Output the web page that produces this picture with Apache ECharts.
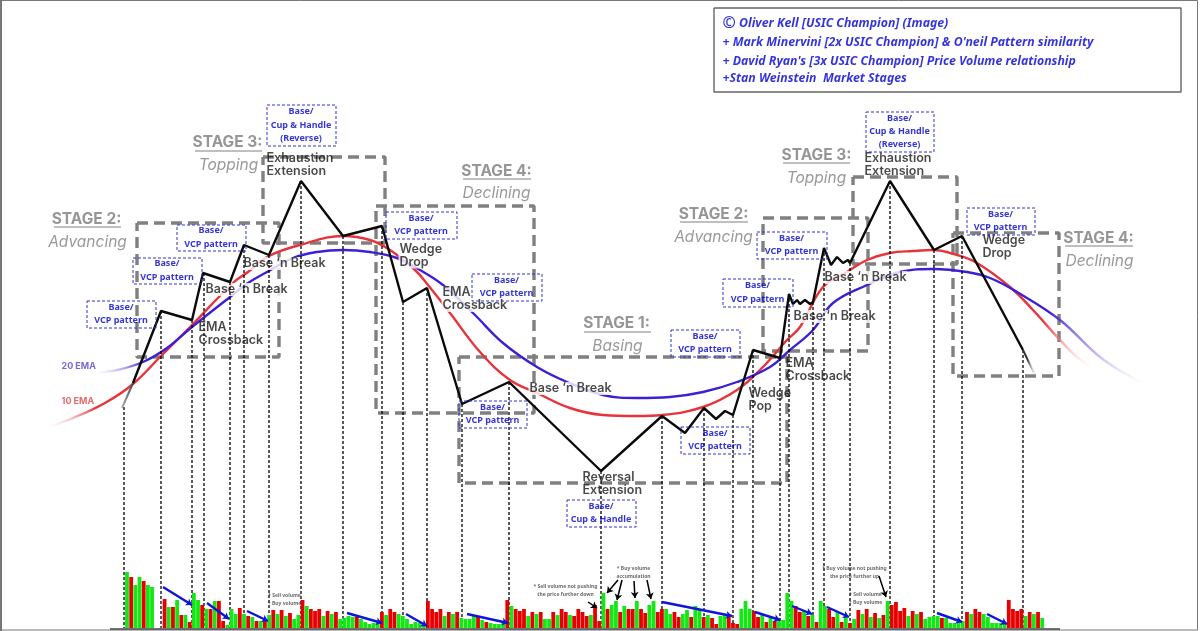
<!DOCTYPE html>
<html>
<head>
<meta charset="utf-8">
<style>
  html, body { margin: 0; padding: 0; background: #fff; }
  #chart { width: 1200px; height: 631px; }
</style>
<script src="https://cdn.jsdelivr.net/npm/echarts@6/dist/echarts.min.js"></script>
</head>
<body>
<div id="chart"></div>
<script>
var priceLine = [[133,383],[161,311],[192,320],[203,273],[230,282],[244,245],[269,255],[301,181],[343,236],[382,226],
  [403,302],[427,288],[462,404],[509,382],[601,471],[662,416],[685,433],[704,408],[716,419],[725,411],[733,415],
  [753,350],[780,358],[789,294],[793,304],[797,300],[800,304],[805,300],[810,304],[813,302],[824,248],[831,265],
  [837,257],[843,263],[848,260],[850,263],[890,181],[934,250],[962,236],[1023,350]];
var priceHead = [[122,408],[133,383]];
var priceTail = [[1023,350],[1035,375]];

var ema10 = [[45,428],[73,418],[105,403],[133,384],[161,356],[192,325],[233,283],[248,272],[269,256],[300,245],[343,236],
  [370,240],[390,250],[415,270],[428,285],[450,313],[480,352],[510,380],[537,393],[570,408],[603,415],[637,416],
  [662,415],[703,407],[737,390],[763,367],[787,340],[800,327],[823,287],[847,272],[867,260],[890,253],[913,251],
  [933,250],[957,255],[977,263],[1010,287],[1033,310],[1060,340],[1077,357],[1093,368]];
var ema20 = [[93,373],[117,370],[143,362],[167,348],[192,327],[230,297],[248,283],[267,272],[293,258],[317,252],[343,250],
  [370,252],[397,258],[420,270],[443,285],[473,313],[503,343],[537,367],[567,382],[603,395],[637,398],[670,397],
  [703,392],[737,382],[770,367],[790,350],[813,330],[833,303],[867,285],[900,272],[933,269],[967,272],[990,278],
  [1017,292],[1060,320],[1100,357],[1133,378],[1153,387]];

var dropTimes = [124,161,192,204,230,244,269,301,343,382,403,427,462,509,601,662,704,733,753,780,789,813,824,850,890,934,962,1023];
var dropTops = [407,311,320,273,282,245,255,181,236,226,302,288,404,382,471,416,408,415,350,358,294,302,248,263,181,250,236,350];

// positive = buy volume, negative = sell volume, null = empty slot
var volumeValues = [56,-51,43,51,-47,43,41,null,null,-29,21,-21,28,-13,13,-6,35,28,-23,19,-19,27,-27,-7,3,19,14,-20,14,-12,11,-7,7,-8,13,-18,14,-18,12,-15,9,13,-28,22,
  -19,-17,-19,12,-17,14,-16,9,10,12,11,-11,9,6,4,5,6,-16,13,-19,-16,14,12,9,4,6,5,3,-27,-19,-16,-19,12,-16,14,-16,10,9,9,12,-11,8,-6,5,
  4,4,5,-28,22,-19,-17,-19,12,-16,14,-16,9,9,-16,13,-19,-16,13,-12,-19,-16,-12,13,-23,-7,35,-19,23,27,-16,22,-19,-19,27,-19,-15,23,27,-16,-19,
  19,14,-16,-11,14,18,-11,22,18,-11,13,-10,-4,12,13,-11,-5,-4,19,27,19,-17,-11,13,-6,12,-7,7,8,35,27,-22,-16,17,-12,13,-6,27,22,-19,-11,16,-6,13,-5,
  9,-18,14,-19,11,-15,10,-13,27,-23,-26,-17,-20,12,-17,14,-16,9,11,12,12,-10,10,5,5,5,7,-16,14,-19,-16,14,11,5,5,5,4,-28,-19,-17,-19,12,-16,14,-16,10];

// left, top, right, bottom
var stageBoxes = [[137,223,279,357],[263,157,385,243],[376,206,534,413],[459,357,787,483],[763,218,868,351],[853,177,957,264],[953,233,1059,376]];
var patternBoxes = [[87,301,156,328],[133,258,202,284],[177,225,246,251],[267,105,336,146],[386,212,457,239],[472,274,542,301],[459,401,527,428],
  [567,500,636,527],[671,330,740,357],[681,427,750,454],[723,279,793,307],[757,232,827,259],[866,112,934,152],[967,208,1035,235]];
var patternTexts = ['Base/\nVCP pattern','Base/\nVCP pattern','Base/\nVCP pattern','Base/\nCup & Handle\n(Reverse)','Base/\nVCP pattern','Base/\nVCP pattern','Base/\nVCP pattern',
  'Base/\nCup & Handle','Base/\nVCP pattern','Base/\nVCP pattern','Base/\nVCP pattern','Base/\nVCP pattern','Base/\nCup & Handle\n(Reverse)','Base/\nVCP pattern'];
var creditBox = [714,8,1181,92];

var stageTitles = [[87,220,'STAGE 2:'],[228,143,'STAGE 3:'],[497,172,'STAGE 4:'],[617,324,'STAGE 1:'],[714,215,'STAGE 2:'],[817,156,'STAGE 3:'],[1099,239,'STAGE 4:']];
var stageNames = [[88,243,'Advancing'],[229,166,'Topping'],[497,194,'Declining'],[618,347,'Basing'],[714,238,'Advancing'],[817,179,'Topping'],[1100,262,'Declining']];
var stageRules = [[54,121,227],[195,262,151],[463,531,179],[584,651,332],[680,748,222],[783,850,163],[1065,1133,246]];

var maskedLabels = [[205,290,"Base ‘n Break"],[243,264,"Base ‘n Break"],[399,256,'Wedge\nDrop'],[442,299.5,'EMA\nCrossback'],[529,389,"Base ‘n Break"],
  [793,317,"Base ‘n Break"],[824,278,"Base ‘n Break"],[982,247.5,'Wedge\nDrop']];
var plainLabels = [[199,334,'EMA\nCrossback'],[267,165.5,'Exhaustion\nExtension'],[583,484.5,'Reversal\nExtension'],[749,400.5,'Wedge\nPop'],[786,370.5,'EMA\nCrossback'],[865,165.5,'Exhaustion\nExtension']];
var emaLabels = [[62,367,'20 EMA','#5a44c8'],[62,402,'10 EMA','#e04545']];
var creditLines = [[723,24,'{c|©} Oliver Kell [USIC Champion] (Image)'],[723,43,"+ Mark Minervini [2x USIC Champion] & O'neil Pattern similarity"],
  [723,62,"+ David Ryan's [3x USIC Champion] Price Volume relationship"],[723,79,'+Stan Weinstein  Market Stages']];
var volumeNotes = [[285,600.5,'* Sell volume\n+ Buy volume'],[566,591,'* Sell volume not pushing\nthe price further down'],[634,573,'* Buy volume\naccumulation'],
  [855,573,'* Buy volume not pushing\nthe price further up'],[866,599.5,'* Sell volume\n+ Buy volume']];

var blueArrows = [[163,587,192,605],[207,603,229,619],[247,611,268,621],[347,613,382,623],[406,614,427,626],[467,614,508,623],
  [662,602,732,616],[755,612,780,620],[792,606,812,614],[827,607,849,617],[937,613,962,622],[987,614,1007,624]];
var blackArrows = [[588,602,597,608],[618,580,607,593],[622,580,617,600],[634,581,635,598],[647,580,651,599],[879,576,886,597]];

var GREEN = '#14e814', RED = '#e60000', PURPLE = '#3d1fd6', EMARED = '#e8333a', BLUE = '#0000d2';

function boxPath(boxes) {
  var pts = [];
  boxes.forEach(function (b) {
    pts.push([b[0],b[1]],[b[2],b[1]],[b[2],b[3]],[b[0],b[3]],[b[0],b[1]],['-','-']);
  });
  return pts;
}

function fade(color, start, end) {
  var stops = [];
  if (start) stops.push({offset: 0, color: 'rgba(255,255,255,0)'}, {offset: start, color: color});
  else stops.push({offset: 0, color: color});
  if (end) stops.push({offset: end, color: color}, {offset: 1, color: 'rgba(255,255,255,0)'});
  else stops.push({offset: 1, color: color});
  return new echarts.graphic.LinearGradient(0, 0, 1, 0, stops);
}

function lineSeries(data, z, style, smooth) {
  return {type: 'line', data: data, z: z, symbol: 'none', silent: true, smooth: smooth || false, lineStyle: style, connectNulls: false, clip: false};
}

function textSeries(rows, z, label) {
  label.show = true;
  label.position = [0, 0];
  label.formatter = function (p) { return p.value[2]; };
  return {type: 'scatter', data: rows, z: z, symbolSize: 1, itemStyle: {color: 'rgba(0,0,0,0)'}, silent: true, label: label};
}

function arrowSeries(rows, color, width, size) {
  return {
    type: 'lines', coordinateSystem: 'cartesian2d', z: 7, silent: true,
    symbol: ['none', 'arrow'], symbolSize: size,
    lineStyle: {color: color, width: width, opacity: 1, curveness: 0},
    data: rows.map(function (r) { return {coords: [[r[0],r[1]],[r[2],r[3]]]}; })
  };
}

var drops = [];
dropTimes.forEach(function (t, i) { drops.push([t, dropTops[i]], [t, 628], ['-','-']); });
var rules = [];
stageRules.forEach(function (r) { rules.push([r[0], r[2]], [r[1], r[2]], ['-','-']); });
var patternRows = patternBoxes.map(function (b, i) { return [(b[0]+b[2])/2, (b[1]+b[3])/2, patternTexts[i]]; });

var eventFont = {fontFamily: 'Inter', fontSize: 12.5, fontWeight: 600, color: '#1a1a1a', lineHeight: 13, align: 'left', verticalAlign: 'middle'};

var chart = echarts.init(document.getElementById('chart'));
chart.setOption({
  animation: false,
  backgroundColor: '#fff',
  grid: [
    {left: 0, right: 0, top: 0, bottom: 0},
    {left: 124.9, top: 568, width: 919.4, height: 60}
  ],
  xAxis: [
    {type: 'value', min: 0, max: 1200, show: false, gridIndex: 0},
    {type: 'category', data: volumeValues.map(function (v, i) { return i; }), show: false, gridIndex: 1}
  ],
  yAxis: [
    {type: 'value', min: 0, max: 631, inverse: true, show: false, gridIndex: 0},
    {type: 'value', min: 0, max: 60, show: false, gridIndex: 1}
  ],
  graphic: [
    {type: 'rect', shape: {x: 0.5, y: 0.5, width: 1197, height: 629.5}, style: {fill: 'none', stroke: '#777', lineWidth: 1}, silent: true, z: 0},
    {type: 'rect', shape: {x: 0, y: 0, width: 2, height: 631}, style: {fill: '#777'}, silent: true, z: 0}
  ],
  series: [
    lineSeries(boxPath(stageBoxes), 1, {color: '#808080', width: 3.4, type: [11, 6]}),
    lineSeries(ema10, 2, {color: fade(EMARED, 0.05, 0.95), width: 2.4}, 0.4),
    lineSeries(ema20, 2, {color: fade(PURPLE, 0.05, 0.9), width: 2.4}, 0.4),
    textSeries(maskedLabels, 3, Object.assign({backgroundColor: '#fff', padding: [0, 1]}, eventFont)),
    lineSeries(drops, 4, {color: '#000', width: 1.3, type: [3, 2]}),
    textSeries(plainLabels, 4, Object.assign({}, eventFont)),
    lineSeries(priceHead, 5, {color: new echarts.graphic.LinearGradient(0, 0, 1, 0, [{offset: 0, color: '#c4c4c4'}, {offset: 1, color: '#333'}]), width: 2}),
    lineSeries(priceLine, 5, {color: '#0a0a0a', width: 2.4}),
    lineSeries(priceTail, 5, {color: fade('#333', 0, 0.4), width: 2}),
    {
      type: 'bar', xAxisIndex: 1, yAxisIndex: 1, z: 5, barWidth: 3.8, silent: true,
      data: volumeValues.map(function (v) {
        if (v === null) return null;
        return {value: Math.abs(v), itemStyle: {color: v > 0 ? GREEN : RED}};
      })
    },
    lineSeries([[110,629],[1060,629]], 6, {color: '#444', width: 1.5}),
    lineSeries(rules, 6, {color: '#808080', width: 1.2}),
    lineSeries(boxPath(patternBoxes), 6, {color: '#3232d8', width: 1, type: [3, 2]}),
    lineSeries(boxPath([creditBox]), 6, {color: '#666', width: 1.4}),
    textSeries(stageTitles, 6, {fontFamily: 'Inter', fontSize: 15.5, fontWeight: 700, color: '#7c7c7c', align: 'center', verticalAlign: 'middle'}),
    textSeries(stageNames, 6, {fontFamily: 'Inter', fontSize: 15.5, fontStyle: 'italic', fontWeight: 400, color: '#808080', align: 'center', verticalAlign: 'middle'}),
    textSeries(patternRows, 6, {fontFamily: 'Noto Sans', fontSize: 9, fontWeight: 700, color: '#0000cc', lineHeight: 13.4, align: 'center', verticalAlign: 'middle'}),
    textSeries(emaLabels.map(function (r) { return {value: r, label: {color: r[3]}}; }), 6, {fontFamily: 'Inter', fontSize: 9, fontWeight: 700, align: 'left', verticalAlign: 'middle'}),
    textSeries(creditLines, 6, {fontFamily: 'Noto Sans', fontSize: 12.3, fontWeight: 700, fontStyle: 'italic', color: BLUE, align: 'left', verticalAlign: 'middle', rich: {c: {fontSize: 16, fontWeight: 700, color: BLUE}}}),
    textSeries(volumeNotes, 6, {fontFamily: 'Noto Sans', fontSize: 5, fontWeight: 700, color: '#444', lineHeight: 8, align: 'center', verticalAlign: 'middle'}),
    arrowSeries(blueArrows, '#0e14d8', 2.4, 6),
    arrowSeries(blackArrows, '#000', 1.5, 6)
  ]
});
</script>
</body>
</html>
